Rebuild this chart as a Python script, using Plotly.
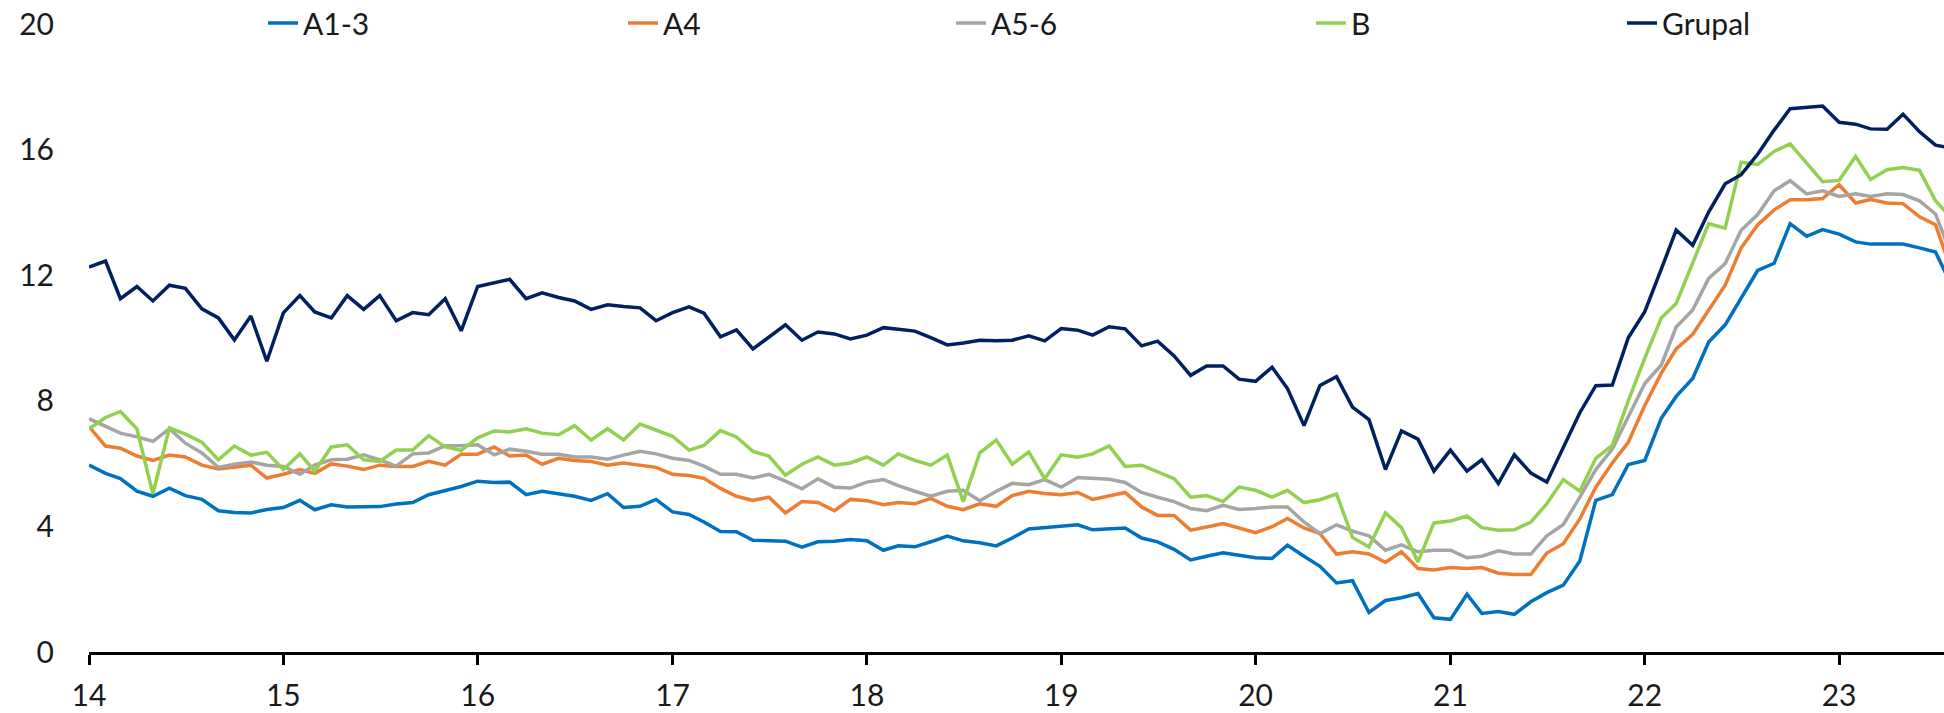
import pandas as pd
import plotly.graph_objects as go

# Monthly observations from Jan 2014
start_month = "2014-01-01"
n_months = 116

a13 = [5.95, 5.69, 5.52, 5.12, 4.96, 5.22, 4.98, 4.86, 4.50, 4.44, 4.43, 4.54, 4.60, 4.83, 4.53, 4.69, 4.62, 4.63, 4.63, 4.71,
       4.76, 5.01, 5.15, 5.27, 5.44, 5.40, 5.41, 5.01, 5.12, 5.04, 4.96, 4.83, 5.04, 4.60, 4.64, 4.86, 4.46, 4.38, 4.14, 3.84,
       3.83, 3.56, 3.54, 3.53, 3.34, 3.51, 3.53, 3.58, 3.54, 3.24, 3.38, 3.35, 3.51, 3.69, 3.54, 3.48, 3.38, 3.63, 3.92, 3.96,
       3.99, 4.05, 3.89, 3.92, 3.95, 3.63, 3.51, 3.27, 2.93, 3.05, 3.16, 3.08, 3.00, 2.98, 3.40, 3.05, 2.73, 2.20, 2.27, 1.26,
       1.64, 1.73, 1.86, 1.09, 1.04, 1.84, 1.23, 1.29, 1.20, 1.60, 1.89, 2.13, 2.90, 4.83, 5.01, 5.97, 6.10, 7.44, 8.14, 8.71,
       9.87, 10.42, 11.29, 12.15, 12.38, 13.64, 13.24, 13.45, 13.31, 13.06, 12.99, 12.99, 12.99, 12.87, 12.74, 11.65]

a4 = [7.18, 6.56, 6.49, 6.24, 6.10, 6.27, 6.21, 5.95, 5.83, 5.88, 5.95, 5.54, 5.66, 5.81, 5.69, 5.99, 5.92, 5.81, 5.95, 5.91,
      5.91, 6.07, 5.95, 6.30, 6.30, 6.53, 6.24, 6.27, 5.98, 6.17, 6.10, 6.07, 5.95, 6.02, 5.95, 5.88, 5.66, 5.62, 5.53, 5.21,
      4.96, 4.83, 4.93, 4.43, 4.79, 4.76, 4.50, 4.86, 4.82, 4.69, 4.76, 4.72, 4.89, 4.64, 4.53, 4.72, 4.64, 4.98, 5.12, 5.05,
      5.01, 5.08, 4.86, 4.98, 5.08, 4.62, 4.35, 4.35, 3.88, 3.98, 4.09, 3.95, 3.80, 3.99, 4.25, 3.95, 3.77, 3.12, 3.19, 3.12,
      2.86, 3.19, 2.66, 2.61, 2.69, 2.66, 2.69, 2.51, 2.47, 2.47, 3.15, 3.45, 4.24, 5.25, 6.02, 6.68, 7.85, 8.88, 9.65, 10.12,
      10.89, 11.68, 12.87, 13.60, 14.08, 14.40, 14.40, 14.44, 14.88, 14.30, 14.41, 14.30, 14.28, 13.86, 13.61, 12.10]

a56 = [7.43, 7.18, 6.97, 6.85, 6.71, 7.11, 6.65, 6.34, 5.88, 5.98, 6.05, 5.95, 5.91, 5.66, 5.95, 6.12, 6.14, 6.28, 6.12, 5.92,
       6.31, 6.34, 6.57, 6.57, 6.60, 6.28, 6.46, 6.39, 6.30, 6.30, 6.21, 6.21, 6.14, 6.27, 6.39, 6.31, 6.17, 6.10, 5.92, 5.66,
       5.66, 5.54, 5.66, 5.44, 5.20, 5.52, 5.25, 5.22, 5.41, 5.49, 5.30, 5.12, 4.96, 5.12, 5.15, 4.82, 5.12, 5.37, 5.33, 5.49,
       5.25, 5.56, 5.52, 5.50, 5.40, 5.08, 4.93, 4.79, 4.57, 4.50, 4.67, 4.54, 4.57, 4.62, 4.62, 4.14, 3.77, 4.05, 3.85, 3.70,
       3.24, 3.41, 3.19, 3.24, 3.24, 3.00, 3.05, 3.22, 3.12, 3.12, 3.70, 4.06, 4.93, 5.81, 6.46, 7.50, 8.55, 9.14, 10.35, 10.89,
       11.90, 12.37, 13.43, 13.93, 14.69, 15.01, 14.59, 14.69, 14.51, 14.59, 14.51, 14.59, 14.57, 14.37, 13.95, 12.60]

b = [7.11, 7.47, 7.66, 7.11, 5.04, 7.14, 6.94, 6.68, 6.12, 6.56, 6.27, 6.36, 5.81, 6.31, 5.76, 6.53, 6.60, 6.12, 6.07, 6.43,
     6.43, 6.89, 6.53, 6.42, 6.82, 7.04, 7.01, 7.11, 6.97, 6.92, 7.21, 6.75, 7.11, 6.75, 7.26, 7.07, 6.87, 6.43, 6.58, 7.05,
     6.85, 6.39, 6.24, 5.63, 5.98, 6.21, 5.95, 6.02, 6.21, 5.95, 6.31, 6.10, 5.95, 6.27, 4.79, 6.34, 6.75, 5.98, 6.37, 5.52,
     6.28, 6.20, 6.31, 6.56, 5.91, 5.95, 5.73, 5.52, 4.93, 4.98, 4.79, 5.25, 5.15, 4.93, 5.15, 4.76, 4.85, 5.03, 3.65, 3.34,
     4.43, 3.96, 2.87, 4.11, 4.17, 4.33, 3.96, 3.88, 3.89, 4.14, 4.72, 5.49, 5.12, 6.17, 6.58, 8.00, 9.36, 10.64, 11.10, 12.37,
     13.64, 13.50, 15.60, 15.53, 15.94, 16.18, 15.57, 14.98, 15.02, 15.78, 15.05, 15.36, 15.43, 15.34, 14.37, 13.80]

grupal = [12.26, 12.45, 11.25, 11.64, 11.18, 11.68, 11.58, 10.93, 10.64, 9.94, 10.70, 9.26, 10.80, 11.35, 10.83, 10.64, 11.35, 10.91, 11.35, 10.55,
          10.81, 10.74, 11.25, 10.23, 11.64, 11.76, 11.87, 11.25, 11.44, 11.29, 11.18, 10.91, 11.06, 11.00, 10.96, 10.55, 10.81, 10.99, 10.79, 10.04,
          10.26, 9.65, 10.04, 10.42, 9.93, 10.19, 10.13, 9.97, 10.09, 10.33, 10.28, 10.22, 10.01, 9.78, 9.84, 9.93, 9.91, 9.93, 10.07, 9.91,
          10.30, 10.25, 10.09, 10.36, 10.29, 9.75, 9.90, 9.43, 8.81, 9.11, 9.11, 8.69, 8.62, 9.07, 8.39, 7.21, 8.49, 8.77, 7.80, 7.40,
          5.81, 7.04, 6.78, 5.76, 6.43, 5.76, 6.12, 5.37, 6.28, 5.70, 5.41, 6.53, 7.62, 8.48, 8.50, 10.01, 10.84, 12.19, 13.44, 12.95,
          14.01, 14.91, 15.20, 15.85, 16.62, 17.30, 17.34, 17.39, 16.87, 16.81, 16.66, 16.65, 17.13, 16.57, 16.14, 16.05]

series_names = ["A1-3", "A4", "A5-6", "B", "Grupal"]
series_values = [a13, a4, a56, b, grupal]
series_colors = ["#0070C0", "#ED7D31", "#A5A5A5", "#92D050", "#002060"]

y_ticks = [0, 4, 8, 12, 16, 20]

dates = pd.date_range(start_month, periods=n_months, freq="MS")

W, H = 1944, 713
FONT = "Lato"
TXT = "#1a1a1a"

fig = go.Figure()
legend_ids = ["legend", "legend2", "legend3", "legend4", "legend5"]
legend_text_x = [303, 663, 991, 1351, 1662]

for name, vals, col, lid in zip(series_names, series_values, series_colors, legend_ids):
    fig.add_trace(go.Scatter(x=dates, y=vals, mode="lines", name=name,
                             line=dict(color=col, width=3.5), legend=lid))

legend_layouts = {}
for lid, tx in zip(legend_ids, legend_text_x):
    legend_layouts[lid] = dict(
        x=(tx - 40) / W, xref="container", xanchor="left",
        y=1 - 23 / H, yref="container", yanchor="middle",
        orientation="h", bgcolor="rgba(0,0,0,0)", borderwidth=0,
        font=dict(family=FONT, size=30, color=TXT),
    )

fig.update_layout(
    width=W, height=H,
    margin=dict(l=89.3, r=0, t=24, b=61.3, pad=0, autoexpand=False),
    paper_bgcolor="white", plot_bgcolor="white",
    font=dict(family=FONT, size=30, color=TXT),
    showlegend=True,
    **legend_layouts,
)

fig.update_xaxes(
    type="date",
    range=["2014-01-01", "2023-07-17"],
    dtick="M12", tick0="2014-01-01", tickformat="%y",
    showgrid=False, zeroline=False,
    showline=True, linecolor="black", linewidth=2.5,
    ticks="outside", ticklen=10, tickwidth=2.5, tickcolor="black",
    tickfont=dict(family=FONT, size=30, color=TXT),
    ticklabelstandoff=5,
    automargin=False,
)
fig.update_yaxes(
    range=[0, 20], tickvals=y_ticks,
    showgrid=False, zeroline=False, showline=False,
    ticks="", tickfont=dict(family=FONT, size=30, color=TXT),
    ticklabelstandoff=34,
    automargin=False,
)

fig.write_html("out.html", config={"displayModeBar": False},
               post_script="document.body.style.margin='0';document.body.style.overflow='hidden';")
